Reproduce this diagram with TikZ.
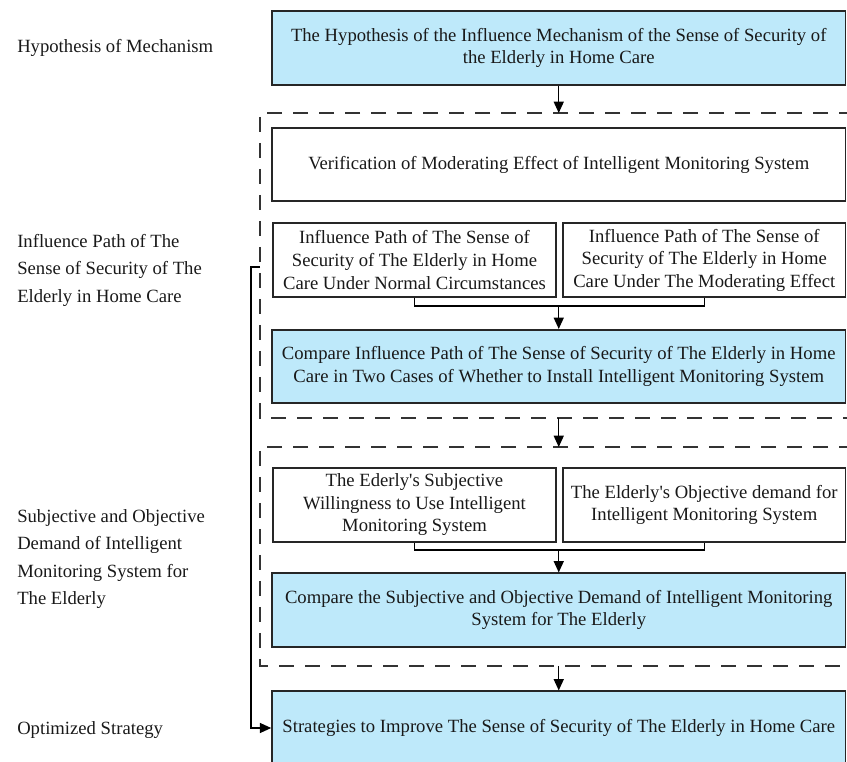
\documentclass[tikz,border=0pt]{standalone}
\usepackage{fontspec}
\setmainfont{Liberation Serif}
\usepackage{xcolor}
\usetikzlibrary{arrows.meta}
\definecolor{boxblue}{RGB}{190,233,250}

\begin{document}
\begin{tikzpicture}[x=0.75pt,y=-0.75pt,
   every node/.style={font=\fontsize{14pt}{16.9pt}\selectfont,text=black!90},
   plainbox/.style={draw=black!85,line width=1.3pt,fill=white,align=center,minimum height=55pt,inner sep=0pt},
   bluebox/.style={plainbox,fill=boxblue},
   frame/.style={draw=black!80,line width=1.1pt,dash pattern=on 11.5pt off 8pt},
   arr/.style={-{Triangle[length=8.5pt,width=7.5pt]},line width=1.1pt},
   lab/.style={anchor=west,align=left,inner sep=0pt,font=\fontsize{14pt}{20.6pt}\selectfont}]
   \useasboundingbox (0,0) rectangle (847,762);
   \clip (0,0) rectangle (847,762);
   \draw[frame] (880,113) -- (260,113) -- (260,418) -- (880,418);
   \draw[frame] (880,447) -- (260,447) -- (260,666) -- (880,666);
   \coordinate (boxAtop) at (558.75,113);
   \coordinate (boxAbot) at (558.75,418);
   \coordinate (boxBtop) at (558.75,447);
   \coordinate (boxBbot) at (558.75,666);
   \coordinate (joinA) at (558.75,306);
   \coordinate (joinB) at (558.75,550);
   \coordinate (back) at (260,267);
   \node[lab] (labHyp) at (17,48) {Hypothesis of Mechanism};
   \node[lab] (labPath) at (17,270) {Influence Path of The\\Sense of Security of The\\Elderly in Home Care};
   \node[lab] (labNeed) at (17,559) {Subjective and Objective\\Demand of Intelligent\\Monitoring System for\\The Elderly};
   \node[lab] (labOpt) at (17,730) {Optimized Strategy};
   \node[bluebox,minimum width=430pt] (hyp) at (558.75,48) {The Hypothesis of the Influence Mechanism of the Sense of Security of\\the Elderly in Home Care};
   \node[plainbox,minimum width=430pt] (verif) at (558.75,164.5) {Verification of Moderating Effect of Intelligent Monitoring System};
   \node[plainbox,minimum width=212.25pt] (pathA) at (414.5,260) {Influence Path of The Sense of\\Security of The Elderly in Home\\Care Under Normal Circumstances};
   \node[plainbox,minimum width=212pt] (pathB) at (704.25,260) {Influence Path of The Sense of\\Security of The Elderly in Home\\Care Under The Moderating Effect};
   \node[bluebox,minimum width=430pt] (cmpA) at (558.75,366.5) {Compare Influence Path of The Sense of Security of The Elderly in Home\\Care in Two Cases of Whether to Install Intelligent Monitoring System};
   \node[plainbox,minimum width=212.25pt] (willA) at (414.5,505) {The Ederly\textquotesingle s Subjective\\Willingness to Use Intelligent\\Monitoring System};
   \node[plainbox,minimum width=212pt] (needB) at (704.25,505) {The Elderly\textquotesingle s Objective demand for\\Intelligent Monitoring System};
   \node[bluebox,minimum width=430pt] (cmpB) at (558.75,610) {Compare the Subjective and Objective Demand of Intelligent Monitoring\\System for The Elderly};
   \node[bluebox,minimum width=430pt] (strat) at (558.75,728) {Strategies to Improve The Sense of Security of The Elderly in Home Care};
   \draw[arr] (hyp.south) -- (boxAtop);
   \draw[line width=1.1pt] (pathA.south) |- (joinA) -| (pathB.south);
   \draw[arr] (joinA) -- (cmpA.north);
   \draw[arr] (boxAbot) -- (boxBtop);
   \draw[line width=1.1pt] (willA.south) |- (joinB) -| (needB.south);
   \draw[arr] (joinB) -- (cmpB.north);
   \draw[arr] (boxBbot) -- (strat.north);
   \draw[arr] (back) -- ++(-9,0) |- (strat.west);
\end{tikzpicture}
\end{document}
